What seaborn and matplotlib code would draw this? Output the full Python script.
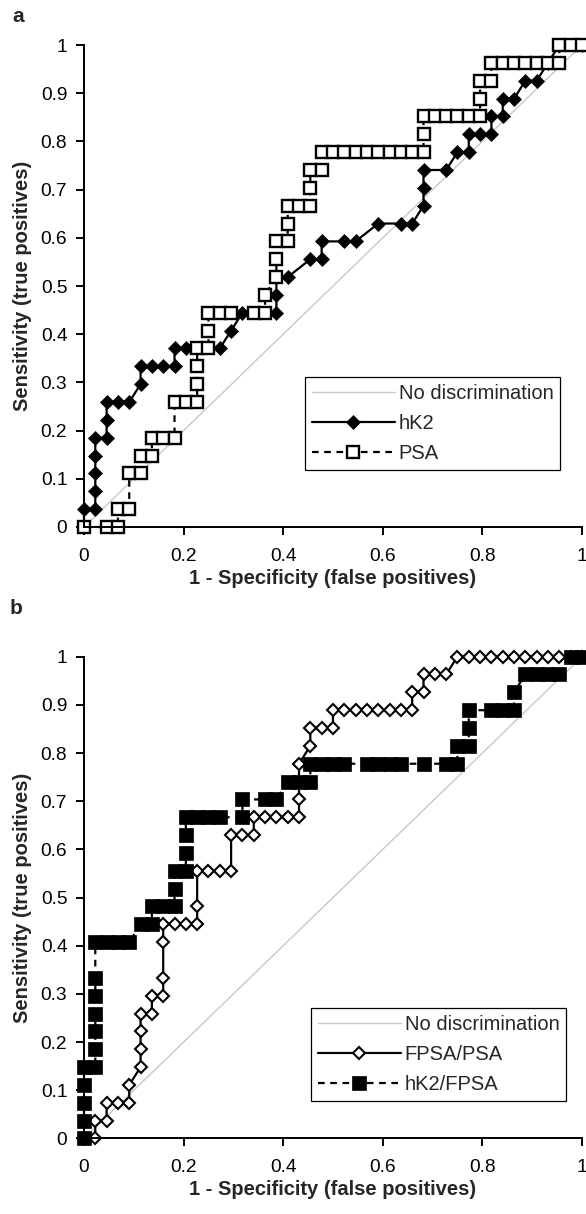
import matplotlib
matplotlib.use("Agg")
import matplotlib.pyplot as plt
import numpy as np
import seaborn as sns

# ROC points read off the figure as counts: false positives out of 44 controls,
# true positives out of 27 cancers
N_NEG = 44
N_POS = 27

HK2_FP = [0, 0, 1, 1, 1, 1, 1, 2, 2, 2, 3, 4, 5, 5, 6, 7, 8, 8, 9, 12, 13, 14,
          17, 17, 17, 18, 20, 21, 21, 23, 24, 26, 28, 29, 30, 30, 30, 32, 33,
          34, 34, 35, 36, 36, 37, 37, 38, 39, 40, 41, 42, 44]
HK2_TP = [0, 1, 1, 2, 3, 4, 5, 5, 6, 7, 7, 7, 8, 9, 9, 9, 9, 10, 10, 10, 11, 12,
          12, 13, 14, 14, 15, 15, 16, 16, 16, 17, 17, 17, 18, 19, 20, 20, 21,
          21, 22, 22, 22, 23, 23, 24, 24, 25, 25, 26, 27, 27]

PSA_FP = [0, 2, 3, 3, 4, 4, 5, 5, 6, 6, 7, 8, 8, 9, 10, 10, 10, 10, 11, 11, 11,
          12, 13, 15, 16, 16, 17, 17, 17, 18, 18, 18, 19, 20, 20, 20, 21, 21,
          22, 23, 24, 25, 26, 27, 28, 29, 30, 30, 30, 31, 32, 33, 34, 35, 35,
          35, 36, 36, 37, 38, 39, 40, 41, 42, 42, 43, 44]
PSA_TP = [0, 0, 0, 1, 1, 3, 3, 4, 4, 5, 5, 5, 7, 7, 7, 8, 9, 10, 10, 11, 12,
          12, 12, 12, 12, 13, 14, 15, 16, 16, 17, 18, 18, 18, 19, 20, 20, 21,
          21, 21, 21, 21, 21, 21, 21, 21, 21, 22, 23, 23, 23, 23, 23, 23, 24,
          25, 25, 26, 26, 26, 26, 26, 26, 26, 27, 27, 27]

RATIO_FP = [0, 1, 1, 2, 2, 3, 4, 4, 5, 5, 5, 5, 6, 6, 7, 7, 7, 7, 8, 9, 10, 10,
            10, 11, 12, 13, 13, 14, 15, 15, 16, 17, 18, 19, 19, 19, 20, 20, 21,
            22, 22, 23, 24, 25, 26, 27, 28, 29, 29, 30, 30, 31, 32, 33, 34, 35,
            36, 37, 38, 39, 40, 41, 42, 43, 44]
RATIO_TP = [0, 0, 1, 1, 2, 2, 2, 3, 4, 5, 6, 7, 7, 8, 8, 9, 11, 12, 12, 12, 12,
            13, 15, 15, 15, 15, 17, 17, 17, 18, 18, 18, 18, 18, 19, 21, 22, 23,
            23, 23, 24, 24, 24, 24, 24, 24, 24, 24, 25, 25, 26, 26, 26, 27, 27,
            27, 27, 27, 27, 27, 27, 27, 27, 27, 27]

HK2F_FP = [0, 0, 0, 0, 0, 1, 1, 1, 1, 1, 1, 1, 2, 3, 4, 5, 6, 6, 7, 8, 8, 8, 9,
           9, 9, 9, 10, 11, 12, 14, 14, 16, 17, 18, 19, 20, 20, 21, 22, 23, 25,
           26, 27, 28, 30, 32, 33, 33, 34, 34, 34, 36, 37, 38, 38, 39, 40, 41,
           42, 43, 44]
HK2F_TP = [0, 1, 2, 3, 4, 4, 5, 6, 7, 8, 9, 11, 11, 11, 11, 12, 12, 13, 13, 13,
           14, 15, 15, 16, 17, 18, 18, 18, 18, 18, 19, 19, 19, 20, 20, 20, 21,
           21, 21, 21, 21, 21, 21, 21, 21, 21, 21, 22, 22, 23, 24, 24, 24, 24,
           25, 26, 26, 26, 26, 27, 27]

DIAG = [0, 1]
LABELS_A = ["No discrimination", "hK2", "PSA"]
LABELS_B = ["No discrimination", "FPSA/PSA", "hK2/FPSA"]
Y_TICKS = [0, 0.1, 0.2, 0.3, 0.4, 0.5, 0.6, 0.7, 0.8, 0.9, 1]
Y_TICK_LABELS = ["0", "0.1", "0.2", "0.3", "0.4", "0.5", "0.6", "0.7", "0.8", "0.9", "1"]
X_TICKS = [0, 0.2, 0.4, 0.6, 0.8, 1]
X_TICK_LABELS = ["0", "0.2", "0.4", "0.6", "0.8", "1"]

sns.set_theme(style="ticks")
plt.rcParams["font.family"] = ["Liberation Sans", "DejaVu Sans"]

DASH = (0, (3, 2.5))
STYLE = {
    "hK2": dict(linestyle="-", marker="D", markersize=7.3, markerfacecolor="black",
                markeredgecolor="black", markeredgewidth=0.5),
    "PSA": dict(linestyle=DASH, marker="s", markersize=8.4, markerfacecolor="white",
                markeredgecolor="black", markeredgewidth=1.7),
    "FPSA/PSA": dict(linestyle="-", marker="D", markersize=6.2, markerfacecolor="white",
                     markeredgecolor="black", markeredgewidth=1.5),
    "hK2/FPSA": dict(linestyle=DASH, marker="s", markersize=10.3, markerfacecolor="black",
                     markeredgecolor="black", markeredgewidth=0.5),
}


def draw_panel(ax, labels, curves, legend_xy):
    sns.lineplot(x=DIAG, y=DIAG, color="#c8c8c8", linewidth=1.0, label=labels[0],
                 ax=ax, sort=False, estimator=None)
    for lab, (fp, tp) in zip(labels[1:], curves):
        x = np.asarray(fp) / N_NEG
        y = np.asarray(tp) / N_POS
        sns.lineplot(x=x, y=y, color="black", linewidth=1.6, label=lab, ax=ax,
                     sort=False, estimator=None, clip_on=False, **STYLE[lab])

    ax.set_xlim(0, 1)
    ax.set_ylim(0, 1)
    ax.set_yticks(Y_TICKS, Y_TICK_LABELS)
    ax.set_xticks(X_TICKS, X_TICK_LABELS)
    ax.tick_params(direction="out", length=6, width=1.4, colors="black", labelsize=13.8)
    ax.tick_params(axis="x", pad=9)
    ax.tick_params(axis="y", pad=6)
    sns.despine(ax=ax)
    for s in ("left", "bottom"):
        ax.spines[s].set_linewidth(1.4)
        ax.spines[s].set_color("black")
    ax.set_xlabel("1 - Specificity (false positives)", fontsize=14.5,
                  fontweight="bold", labelpad=3)
    ax.set_ylabel("Sensitivity (true positives)", fontsize=14.5,
                  fontweight="bold", labelpad=6)

    leg = ax.legend(loc="upper left", bbox_to_anchor=legend_xy, borderaxespad=0,
                    frameon=True, fancybox=False, framealpha=1, edgecolor="black",
                    fontsize=14.5, handlelength=4.1, handletextpad=0.2,
                    labelspacing=0.55, borderpad=0.35)
    leg.get_frame().set_linewidth(0.9)


fig = plt.figure(figsize=(5.86, 12.14), dpi=100)
ax_a = fig.add_axes([0.1433, 0.5659, 0.8498, 0.3970])
ax_b = fig.add_axes([0.1433, 0.0622, 0.8498, 0.3969])

draw_panel(ax_a, LABELS_A, [(HK2_FP, HK2_TP), (PSA_FP, PSA_TP)], (0.4438, 0.311))
draw_panel(ax_b, LABELS_B, [(RATIO_FP, RATIO_TP), (HK2F_FP, HK2F_TP)], (0.4558, 0.2715))

fig.text(12 / 586, 1 - 22 / 1214, "a", fontsize=15, fontweight="bold")
fig.text(10 / 586, 1 - 614 / 1214, "b", fontsize=15, fontweight="bold")

fig.savefig("out.png", dpi=100, facecolor="white")
